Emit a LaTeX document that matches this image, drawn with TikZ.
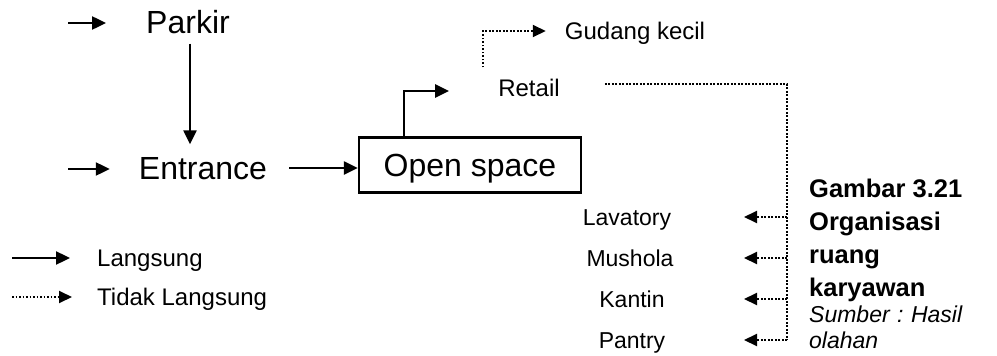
\documentclass[tikz,border=0pt]{standalone}
\usepackage{fontspec}
\setmainfont{Liberation Sans}
\usetikzlibrary{arrows.meta}
\begin{document}
\begin{tikzpicture}[x=1pt,y=-1pt,
  big/.style={font=\fontsize{32}{38}\selectfont, inner sep=0pt, text height=23pt, text depth=0pt},
  small/.style={font=\fontsize{24}{28}\selectfont, inner sep=0pt, text height=17pt, text depth=0pt},
  room/.style={font=\fontsize{23}{28}\selectfont, inner sep=0pt, text height=16pt, text depth=0pt},
  captxt/.style={font=\fontsize{25.5}{32}\selectfont\bfseries, inner sep=0pt, anchor=base west},
  srctxt/.style={font=\fontsize{23}{28}\selectfont\itshape, inner sep=0pt, anchor=base west},
  direct/.style={line width=2.4pt, -{Triangle[length=14pt,width=13pt]}},
  indirect/.style={line width=2pt, dash pattern=on 1.8pt off 1.7pt, -{Triangle[length=13pt,width=12pt]}},
  indirectline/.style={line width=2pt, dash pattern=on 1.8pt off 1.7pt},
]
\useasboundingbox (0,0) rectangle (997,356);

% main spaces
\node[big] (parkir) at (188,22) {Parkir};
\node[big] (entrance) at (203,168) {Entrance};
\node[big, draw, line width=2.4pt, minimum width=222pt, minimum height=55pt] (open) at (470,165) {Open space};
\node[small] (retail) at (529,88) {Retail};
\node[small] (gudang) at (635,31) {Gudang kecil};

% staff rooms
\node[room] (lavatory) at (627,217) {Lavatory};
\node[room] (mushola) at (630,258) {Mushola};
\node[room] (kantin) at (632,299) {Kantin};
\node[room] (pantry) at (632,340) {Pantry};

% legend
\node[small, anchor=west] (lang) at (97,258) {Langsung};
\node[small, anchor=west] (tidak) at (97,297) {Tidak Langsung};
\coordinate (l1) at (12,258);
\coordinate (l2) at (12,297);
\draw[direct, shorten >=27pt] (l1) -- (lang.west);
\draw[indirect, shorten >=25pt] (l2) -- (tidak.west);

% caption
\node[captxt] (c1) at (809,197) {Gambar 3.21};
\node[captxt] (c2) at (809,230) {Organisasi};
\node[captxt] (c3) at (809,263) {ruang};
\node[captxt] (c4) at (809,296) {karyawan};
\node[srctxt] (c5) at (809,322) {\makebox[153pt][l]{Sumber\hfill:\hfill Hasil}};
\node[srctxt] (c6) at (809,348) {olahan};

% direct links
\coordinate (inP) at (68,23);
\coordinate (inE) at (68,169);
\draw[direct, shorten >=40pt] (inP) -- (inP -| parkir.west);
\draw[direct, shorten >=29pt] (inE) -- (inE -| entrance.west);
\draw[direct, shorten <=10pt, shorten >=12pt] ([xshift=2pt]parkir.south) -- ([xshift=2pt]parkir.south |- entrance.north);
\draw[direct, shorten <=22pt] (entrance.east) -- (entrance.east -| open.west);
\draw[direct, shorten >=49pt] ([xshift=-66pt]open.north) |- ([yshift=-3pt]retail.west);

% indirect links
\draw[indirect, shorten >=19pt] ([xshift=-15pt,yshift=12pt]retail.north west) |- (gudang.west);
\coordinate (bus) at (787,84);
\coordinate (tipx) at (744,84);
\draw[indirectline, shorten <=45pt] ([yshift=4pt]retail.east) -- (bus) -- (bus |- pantry);
\foreach \r in {lavatory,mushola,kantin,pantry}
  \draw[indirect] (bus |- \r) -- (tipx |- \r);
\end{tikzpicture}
\end{document}
